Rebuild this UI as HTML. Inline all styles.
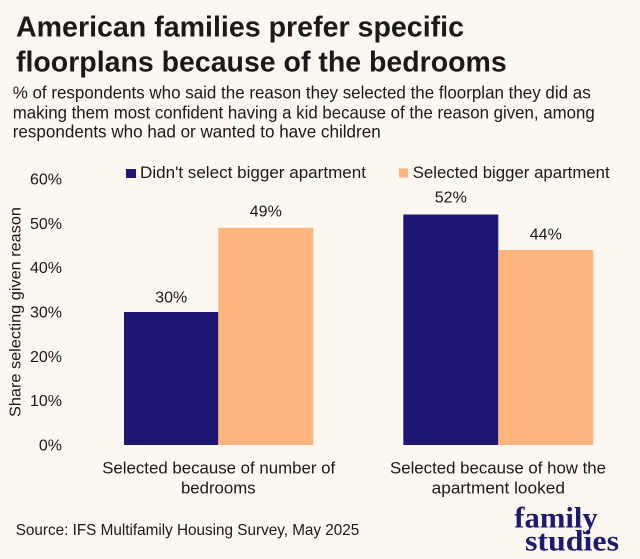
<!DOCTYPE html>
<html>
<head>
<meta charset="utf-8">
<style>
html,body{margin:0;padding:0;background:#fdf7f2;}
svg{display:block;}
text{font-family:"Liberation Sans",sans-serif;fill:#1a1a1a;}
</style>
</head>
<body>
<svg width="640" height="559" viewBox="0 0 640 559" xmlns="http://www.w3.org/2000/svg">
<rect x="0" y="0" width="640" height="559" fill="#fdf7f2"/>

<!-- Title -->
<text x="16" y="36.7" font-size="29" font-weight="bold" textLength="448" lengthAdjust="spacingAndGlyphs">American families prefer specific</text>
<text x="16" y="71.7" font-size="29" font-weight="bold" textLength="490.7" lengthAdjust="spacingAndGlyphs">floorplans because of the bedrooms</text>

<!-- Subtitle -->
<text x="12.7" y="98.5" font-size="17.5" textLength="578" lengthAdjust="spacingAndGlyphs">% of respondents who said the reason they selected the floorplan they did as</text>
<text x="12.7" y="118.3" font-size="17.5" textLength="582" lengthAdjust="spacingAndGlyphs">making them most confident having a kid because of the reason given, among</text>
<text x="12.7" y="137.7" font-size="17.5" textLength="368" lengthAdjust="spacingAndGlyphs">respondents who had or wanted to have children</text>

<!-- Legend -->
<rect x="126" y="169" width="10" height="9" fill="#1e1775"/>
<text x="140" y="178" font-size="17" textLength="226" lengthAdjust="spacingAndGlyphs">Didn't select bigger apartment</text>
<rect x="399" y="168.5" width="9" height="9" fill="#ffb57c"/>
<text x="412.7" y="178" font-size="17" textLength="197" lengthAdjust="spacingAndGlyphs">Selected bigger apartment</text>

<!-- Y axis labels -->
<g font-size="16" text-anchor="end">
<text x="62" y="184.5">60%</text>
<text x="62" y="228.8">50%</text>
<text x="62" y="273.2">40%</text>
<text x="62" y="317.5">30%</text>
<text x="62" y="361.8">20%</text>
<text x="62" y="406.2">10%</text>
<text x="62" y="450.5">0%</text>
</g>

<!-- Y axis title -->
<text transform="translate(20.5,312) rotate(-90)" text-anchor="middle" font-size="16" textLength="210" lengthAdjust="spacingAndGlyphs">Share selecting given reason</text>

<!-- Bars -->
<rect x="124" y="312" width="94.3" height="133" fill="#1e1775"/>
<rect x="218.3" y="227.8" width="95" height="217.2" fill="#ffb57c"/>
<rect x="403.3" y="214.5" width="95" height="230.5" fill="#1e1775"/>
<rect x="498.3" y="250" width="95" height="195" fill="#ffb57c"/>

<!-- Data labels -->
<g font-size="16" text-anchor="middle">
<text x="171.2" y="302.7">30%</text>
<text x="265.8" y="216.7">49%</text>
<text x="450.8" y="202.7">52%</text>
<text x="545.8" y="239.3">44%</text>
</g>

<!-- Category labels -->
<g font-size="17" text-anchor="middle">
<text x="218.7" y="473.3" textLength="233" lengthAdjust="spacingAndGlyphs">Selected because of number of</text>
<text x="218.3" y="493.3" textLength="74.7" lengthAdjust="spacingAndGlyphs">bedrooms</text>
<text x="498" y="473.3" textLength="216" lengthAdjust="spacingAndGlyphs">Selected because of how the</text>
<text x="498.3" y="493.3" textLength="133.3" lengthAdjust="spacingAndGlyphs">apartment looked</text>
</g>

<!-- Source -->
<text x="15.7" y="535" font-size="16" textLength="343.6" lengthAdjust="spacingAndGlyphs">Source: IFS Multifamily Housing Survey, May 2025</text>

<!-- Logo -->
<text x="514.3" y="527.3" font-family="Liberation Serif, serif" font-weight="bold" font-size="30" fill="#1e1a72" style="fill:#1e1a72;font-family:'Liberation Serif',serif" textLength="83.4" lengthAdjust="spacingAndGlyphs">family</text>
<text x="525" y="550.7" font-family="Liberation Serif, serif" font-weight="bold" font-size="30" fill="#1e1a72" style="fill:#1e1a72;font-family:'Liberation Serif',serif" textLength="94" lengthAdjust="spacingAndGlyphs">studies</text>
</svg>
</body>
</html>
